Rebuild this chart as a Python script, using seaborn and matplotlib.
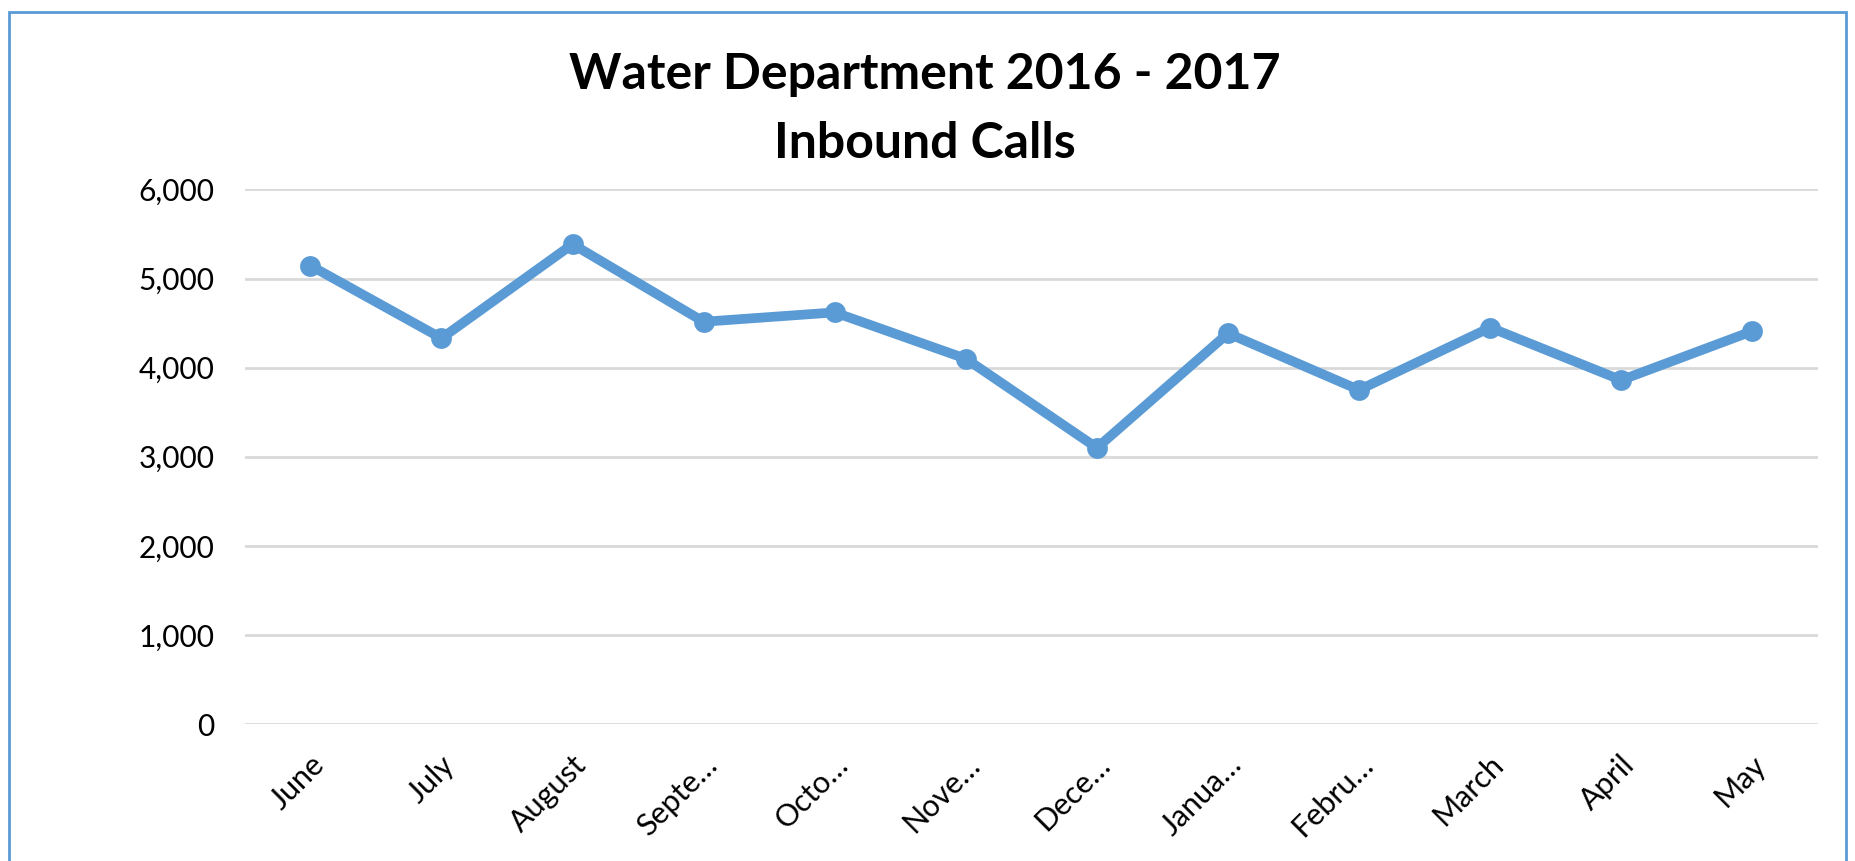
import matplotlib
matplotlib.use("Agg")
import matplotlib.pyplot as plt
import matplotlib.transforms as mtransforms
import seaborn as sns
import pandas as pd
from matplotlib.patches import Rectangle
from matplotlib.ticker import FuncFormatter

months = ["June", "July", "August", "Septe…", "Octo…", "Nove…", "Dece…",
          "Janua…", "Febru…", "March", "April", "May"]
calls = [5145, 4330, 5385, 4515, 4620, 4100, 3100, 4385, 3750, 4450, 3860, 4410]
yticks = [0, 1000, 2000, 3000, 4000, 5000, 6000]

sns.set_theme(style="white")
plt.rcParams['font.family'] = ['Lato', 'DejaVu Sans']

df = pd.DataFrame({"month": months, "calls": calls})

fig = plt.figure(figsize=(18.55, 8.61), dpi=100)
ax = fig.add_axes([0.132, 0.159, 0.848, 0.621])

sns.lineplot(data=df, x="month", y="calls", ax=ax, color="#5B9BD5",
             linewidth=7, marker="o", markersize=15, markeredgewidth=0,
             sort=False)

ax.set_ylim(0, 6000)
ax.set_xlim(-0.5, len(months) - 0.5)
ax.set_yticks(yticks)
ax.yaxis.set_major_formatter(FuncFormatter(lambda v, p: f"{int(v):,}"))
ax.grid(axis="y", color="#D9D9D9", linewidth=2)
ax.set_axisbelow(True)
for s in ax.spines.values():
    s.set_visible(False)
ax.set_xlabel("")
ax.set_ylabel("")
ax.tick_params(axis="y", length=0, pad=22, labelsize=21.5, labelcolor="black")
ax.tick_params(axis="x", length=0, pad=26, labelsize=22, labelcolor="black")
offset = mtransforms.ScaledTranslation(0.09, 0, fig.dpi_scale_trans)
for lab in ax.get_xticklabels():
    lab.set_rotation(45)
    lab.set_ha("right")
    lab.set_va("center")
    lab.set_rotation_mode("anchor")
    lab.set_transform(lab.get_transform() + offset)

fig.text(0.4987, 0.913, "Water Department 2016 - 2017", ha="center", va="center",
         fontsize=36, fontweight="bold", color="black")
fig.text(0.4987, 0.833, "Inbound Calls", ha="center", va="center",
         fontsize=36, fontweight="bold", color="black")

fig.patches.append(Rectangle((9 / 1855, -0.02), (1846 - 9) / 1855, 1.02 - 12 / 861,
                             transform=fig.transFigure, fill=False,
                             edgecolor="#5B9BD5", linewidth=2))

fig.savefig("out.png", dpi=100)
